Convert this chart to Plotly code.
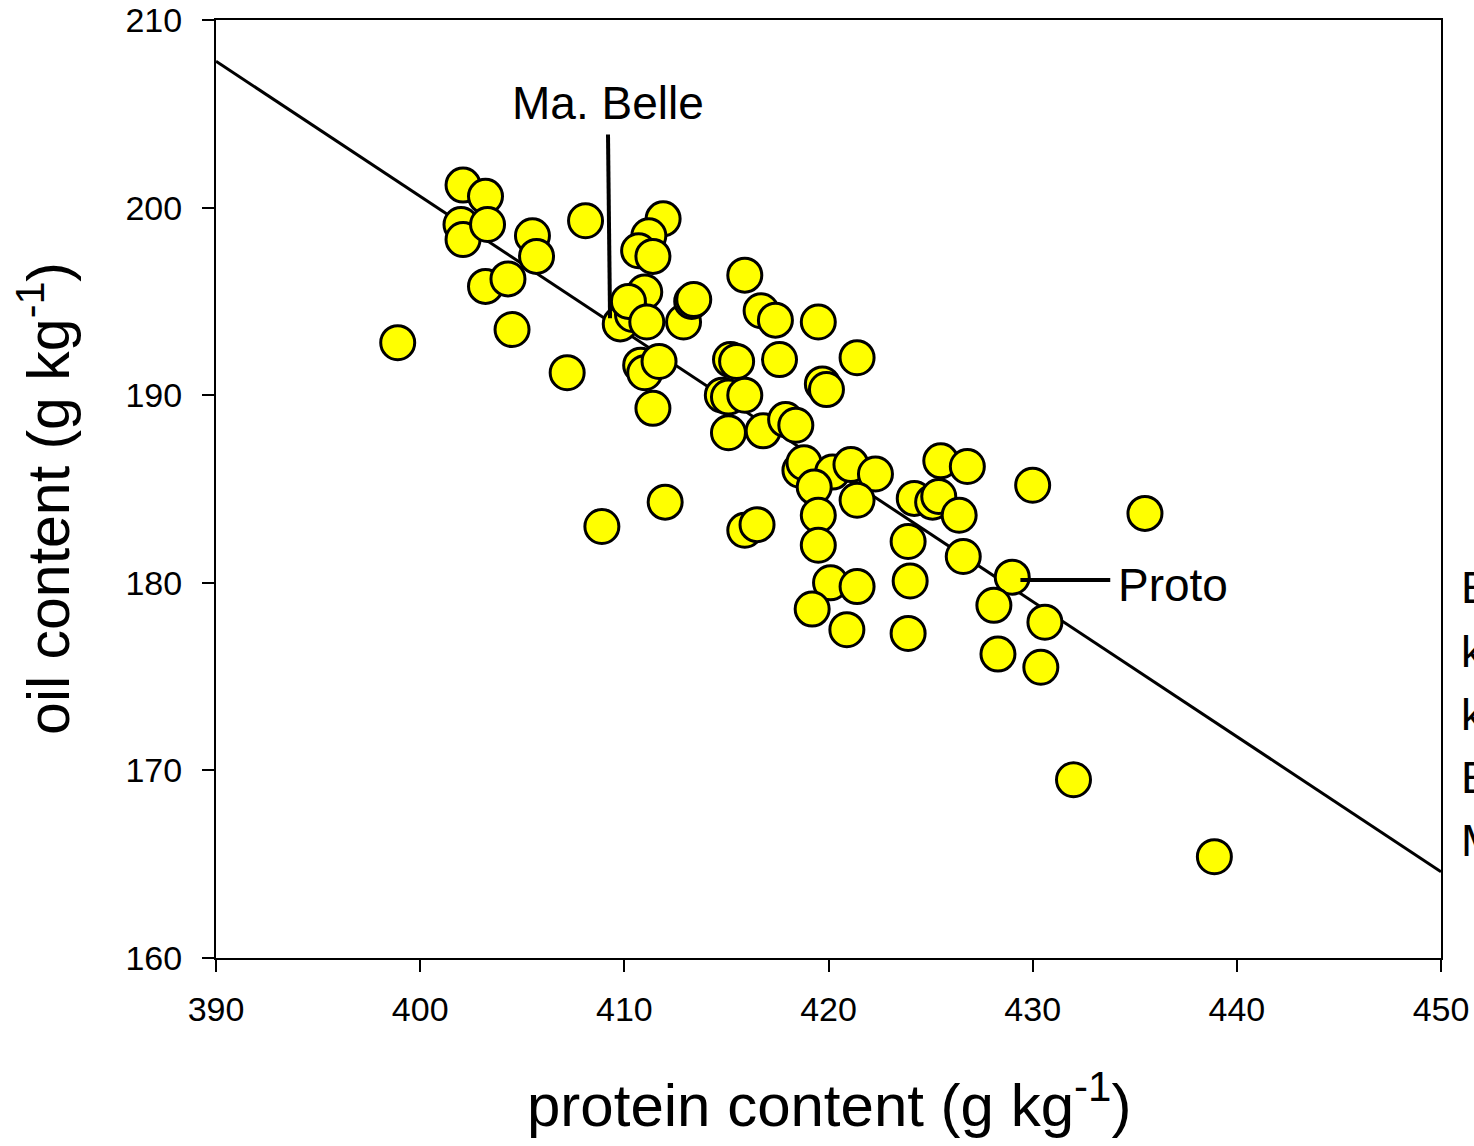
import plotly.graph_objects as go

# Data
protein = [398.9, 402.1, 403.2, 402.0, 402.1, 403.3, 403.2, 404.3, 404.5, 405.5,
           405.7, 407.2, 408.1, 408.9, 411.9, 411.2, 410.7, 411.4, 411.0, 409.8,
           410.4, 410.2, 411.1, 410.8, 411.0, 411.7, 411.4, 412.0, 412.9, 413.3,
           413.4, 415.9, 416.7, 417.4, 419.5, 421.4, 415.2, 415.5, 417.6, 419.7,
           419.9, 414.8, 415.1, 415.9, 415.1, 416.8, 417.9, 418.4, 418.6, 418.8,
           420.2, 421.1, 422.3, 421.4, 419.3, 419.5, 419.5, 415.9, 416.5, 420.1,
           421.4, 419.2, 420.9, 425.5, 426.8, 424.2, 425.1, 425.4, 426.4, 423.9,
           424.0, 423.9, 426.6, 429.0, 428.1, 430.0, 428.3, 430.6, 430.4, 432.0,
           435.5, 438.9]
oil = [192.8, 201.2, 200.6, 199.1, 198.3, 199.1, 195.8, 196.2, 193.5, 198.5,
       197.4, 191.2, 199.3, 183.0, 199.4, 198.5, 197.7, 197.4, 195.5, 193.8,
       194.3, 195.0, 193.9, 191.6, 191.2, 191.8, 189.3, 184.3, 193.9, 195.0,
       195.1, 196.4, 194.5, 194.0, 193.9, 192.0, 191.9, 191.8, 191.9, 190.6,
       190.3, 190.0, 189.9, 190.0, 188.0, 188.1, 188.7, 188.4, 186.0, 186.4,
       185.9, 186.3, 185.8, 184.4, 185.1, 183.6, 182.0, 182.8, 183.1, 180.0,
       179.8, 178.6, 177.5, 186.5, 186.2, 184.5, 184.3, 184.6, 183.6, 182.2,
       180.1, 177.3, 181.4, 180.3, 178.8, 185.2, 176.2, 177.9, 175.5, 169.5,
       183.7, 165.4]

fit_x = [390, 450]
fit_y = [207.8, 164.6]

x_ticks = [390, 400, 410, 420, 430, 440, 450]
y_ticks = [160, 170, 180, 190, 200, 210]

FONT = "Liberation Sans, Arial, sans-serif"

fig = go.Figure()
fig.add_trace(go.Scatter(x=fit_x, y=fit_y, mode="lines",
                         line=dict(color="black", width=3),
                         hoverinfo="skip", showlegend=False))
fig.add_trace(go.Scatter(x=protein, y=oil, mode="markers",
                         marker=dict(size=34, color="#ffff00",
                                     line=dict(color="black", width=3)),
                         showlegend=False))

# Labelled cultivars
fig.add_shape(type="line", x0=409.2, x1=409.3, y0=203.9, y1=194.1,
              line=dict(color="black", width=4))
fig.add_annotation(x=409.2, y=205.6, text="Ma. Belle", showarrow=False,
                   font=dict(size=46, color="black", family=FONT))
fig.add_shape(type="line", x0=429.4, x1=433.8, y0=180.15, y1=180.15,
              line=dict(color="black", width=4))
fig.add_annotation(x=434.1, y=179.9, text="Proto", showarrow=False,
                   xanchor="left", font=dict(size=46, color="black", family=FONT))

# Axis titles
fig.add_annotation(xref="paper", yref="paper", x=0.5, y=-0.152, yanchor="middle",
                   text="protein content (g kg<sup>-1</sup>)", showarrow=False,
                   font=dict(size=60, color="black", family=FONT))
fig.add_annotation(xref="paper", yref="paper", x=-0.140, y=0.49, xanchor="center",
                   textangle=-90,
                   text="oil content (g kg<sup>-1</sup>)", showarrow=False,
                   font=dict(size=59, color="black", family=FONT))

# Cut-off text at right edge
edge_letters = ["E", "k", "k", "E", "M"]
edge_y = [587, 651, 714, 777, 840]
for ch, py in zip(edge_letters, edge_y):
    fig.add_annotation(xref="paper", yref="paper",
                       x=(1459 - 216) / 1225, y=(958 - py) / 938,
                       xanchor="left", yanchor="middle", text=ch, showarrow=False,
                       font=dict(size=45, color="black", family=FONT))

axis_common = dict(showline=True, linecolor="black", linewidth=2, mirror=True,
                   ticks="outside", ticklen=12, tickwidth=2, tickcolor="black",
                   showgrid=False, zeroline=False, ticklabeloverflow="allow",
                   tickfont=dict(size=34, color="black", family=FONT))

fig.update_xaxes(range=[390, 450], tickvals=x_ticks, ticklabelstandoff=8, **axis_common)
fig.update_yaxes(range=[160, 210], tickvals=y_ticks, ticklabelstandoff=13, **axis_common)

fig.update_layout(width=1474, height=1146,
                  margin=dict(l=216, r=33, t=20, b=188, autoexpand=False),
                  plot_bgcolor="white", paper_bgcolor="white",
                  font=dict(family=FONT, color="black"))

fig.write_html("out.html", config={"displayModeBar": False},
               post_script="document.body.style.margin='0';document.body.style.overflow='hidden';")
